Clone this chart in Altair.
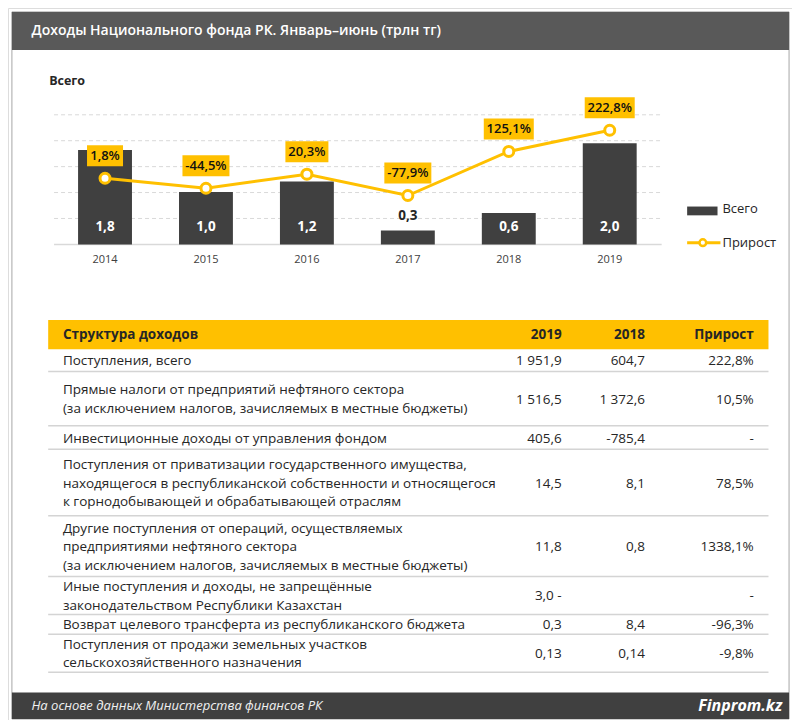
import altair as alt
import pandas as pd

# ---------------- data ----------------
title_text = "Доходы Национального фонда РК. Январь–июнь (трлн тг)"
subtitle_text = "Всего"
legend_labels = ["Всего", "Прирост"]
source_text = "На основе данных Министерства финансов РК"
brand_text = "Finprom.kz"

years = ["2014", "2015", "2016", "2017", "2018", "2019"]
totals = [1.82, 1.01, 1.215, 0.269, 0.605, 1.952]
total_labels = ["1,8", "1,0", "1,2", "0,3", "0,6", "2,0"]
growth = [1.8, -44.5, 20.3, -77.9, 125.1, 222.8]
growth_labels = ["1,8%", "-44,5%", "20,3%", "-77,9%", "125,1%", "222,8%"]

table_headers = ["Структура доходов", "2019", "2018", "Прирост"]
row_labels = [
    "Поступления, всего",
    "Прямые налоги от предприятий нефтяного сектора\n(за исключением налогов, зачисляемых в местные бюджеты)",
    "Инвестиционные доходы от управления фондом",
    "Поступления от приватизации государственного имущества,\nнаходящегося в республиканской собственности и относящегося\nк горнодобывающей и обрабатывающей отраслям",
    "Другие поступления от операций, осуществляемых\nпредприятиями нефтяного сектора\n\u2002(за исключением налогов, зачисляемых в местные бюджеты)",
    "Иные поступления и доходы, не запрещённые\nзаконодательством Республики Казахстан",
    "Возврат целевого трансферта из республиканского бюджета",
    "Поступления от продажи земельных участков\nсельскохозяйственного назначения",
]
col_2019 = ["1 951,9", "1 516,5", "405,6", "14,5", "11,8", "3,0 -", "0,3", "0,13"]
col_2018 = ["604,7", "1 372,6", "-785,4", "8,1", "0,8", "", "8,4", "0,14"]
col_growth = ["222,8%", "10,5%", "-", "78,5%", "1338,1%", "-", "-96,3%", "-9,8%"]

# ---------------- layout ----------------
W, H = 784, 712
SX, SY = W / 800, H / 728


def px(v):
    return v * SX


def py(v):
    return v * SY


FONT = "Open Sans"
GOLD = "#FFC000"
DARK = "#404040"
TXT = "#262626"
TFS = 13.5          # table font size
LH = 18.5           # table line height

row_heights = [22.7, 55.5, 24, 68, 62, 39, 20, 39]
table_top = 349

# ---------------- frames ----------------
bars_df = pd.DataFrame({"year": years, "v": totals, "lab": total_labels})
growth_df = pd.DataFrame({"year": years, "g": growth, "lab": growth_labels})
growth_df["bw"] = [7 * sum(ch.isdigit() for ch in s) + 22 + (4 if "-" in s else 0) for s in growth_labels]

bounds, centers, first_line = [], [], []
acc = table_top
for h, lab in zip(row_heights, row_labels):
    c = py(acc + h / 2 + 1)
    n = lab.count("\n") + 1
    centers.append(c)
    first_line.append(c - (n - 1) * LH / 2)
    acc += h
    bounds.append(py(acc))
table_df = pd.DataFrame({"label": row_labels, "v19": col_2019, "v18": col_2018,
                         "gr": col_growth, "yc": centers, "y1": first_line})
sep_df = pd.DataFrame({"y": bounds})

xs = alt.Scale(domain=years, range=[px(47.5), px(665.5)], paddingInner=0.466, paddingOuter=0.233)
yb = alt.Scale(domain=[0, 2.5], range=[py(241.7), py(109.2)])
yg = alt.Scale(domain=[-303, 294], range=[py(241.7), py(109.2)])


def rects(rows):
    df = pd.DataFrame(rows, columns=["x", "x2", "y", "y2", "c"])
    df["x"] = df["x"].map(px)
    df["x2"] = df["x2"].map(px)
    df["y"] = df["y"].map(py)
    df["y2"] = df["y2"].map(py)
    return alt.Chart(df).mark_rect().encode(
        x=alt.X("x:Q", scale=None, axis=None), x2="x2:Q",
        y=alt.Y("y:Q", scale=None, axis=None), y2="y2:Q",
        color=alt.Color("c:N", scale=None, legend=None))


def text_at(text, X, Y, **kw):
    return alt.Chart(pd.DataFrame({"t": [text]})).mark_text(**kw).encode(
        x=alt.value(px(X)), y=alt.value(py(Y)), text="t:N")


border = alt.Chart(pd.DataFrame({"a": [0]})).mark_rect(
    fill="white", stroke="#a6a6a6", strokeWidth=1).encode(
    x=alt.value(px(4)), x2=alt.value(px(797)), y=alt.value(py(4)), y2=alt.value(py(727)))

bands = rects([
    (4, 797, 4, 43, "#595959"),
    (4, 797, 700, 727, "#404040"),
    (41, 776, 319, 349, GOLD),
])

title = text_at(title_text, 24, 24, font=FONT, fontSize=14, fontWeight=600,
                color="white", align="left", baseline="middle")
subtitle = text_at(subtitle_text, 42, 75, font=FONT, fontSize=12.5, fontWeight="bold",
                   color=TXT, align="left", baseline="middle")

grid = alt.Chart(pd.DataFrame({"g": [0.5, 1.0, 1.5, 2.0, 2.5]})).mark_rule(
    color="#d9d9d9", strokeDash=[4, 3], strokeWidth=1).encode(
    y=alt.Y("g:Q", scale=yb, axis=None), x=alt.value(px(47)), x2=alt.value(px(667)))
baseline = alt.Chart(pd.DataFrame({"g": [0.0]})).mark_rule(
    color="#d9d9d9", strokeWidth=1.5).encode(
    y=alt.Y("g:Q", scale=yb, axis=None), x=alt.value(px(47)), x2=alt.value(px(667)))

bars = alt.Chart(bars_df).mark_bar(color=DARK).encode(
    x=alt.X("year:N", scale=xs, axis=None),
    y=alt.Y("v:Q", scale=yb, axis=None))

bar_lab_in = alt.Chart(bars_df).transform_filter("datum.v >= 0.4").mark_text(
    font=FONT, fontSize=13.5, fontWeight="bold", color="white", baseline="middle").encode(
    x=alt.X("year:N", scale=xs, axis=None), y=alt.value(py(224)), text="lab:N")
bar_lab_out = alt.Chart(bars_df).transform_filter("datum.v < 0.4").mark_text(
    font=FONT, fontSize=13.5, fontWeight="bold", color=TXT, baseline="middle", dy=-14).encode(
    x=alt.X("year:N", scale=xs, axis=None), y=alt.Y("v:Q", scale=yb, axis=None), text="lab:N")

year_labels = alt.Chart(bars_df).mark_text(
    font=FONT, fontSize=11, color=DARK, baseline="middle").encode(
    x=alt.X("year:N", scale=xs, axis=None), y=alt.value(py(258)), text="year:N")

line = alt.Chart(growth_df).mark_line(color=GOLD, strokeWidth=3).encode(
    x=alt.X("year:N", scale=xs, axis=None), y=alt.Y("g:Q", scale=yg, axis=None))
points = alt.Chart(growth_df).mark_point(
    filled=True, fill="white", stroke=GOLD, strokeWidth=3, size=100, opacity=1).encode(
    x=alt.X("year:N", scale=xs, axis=None), y=alt.Y("g:Q", scale=yg, axis=None))
boxes = alt.Chart(growth_df).mark_bar(color=GOLD, yOffset=-33, y2Offset=-12).encode(
    x=alt.X("year:N", scale=xs, axis=None),
    y=alt.Y("g:Q", scale=yg, axis=None), y2=alt.Y2("g:Q"),
    size=alt.Size("bw:Q", scale=None, legend=None))
box_text = alt.Chart(growth_df).mark_text(
    font=FONT, fontSize=13, fontWeight=600, color="#111111", baseline="middle", dy=-22.5).encode(
    x=alt.X("year:N", scale=xs, axis=None), y=alt.Y("g:Q", scale=yg, axis=None), text="lab:N")

leg_df = pd.DataFrame({"s": [legend_labels[0]]})
leg_rect = alt.Chart(leg_df).mark_rect(color=DARK).encode(
    x=alt.value(px(693)), x2=alt.value(px(724)), y=alt.value(py(203)), y2=alt.value(py(212)))
leg_line = alt.Chart(leg_df).mark_rule(color=GOLD, strokeWidth=3).encode(
    x=alt.value(px(693)), x2=alt.value(px(727)), y=alt.value(py(240)))
leg_pt = alt.Chart(leg_df).mark_point(
    filled=True, fill="white", stroke=GOLD, strokeWidth=2.5, size=45, opacity=1).encode(
    x=alt.value(px(709)), y=alt.value(py(240)))
leg_t1 = text_at(legend_labels[0], 729, 206, font=FONT, fontSize=13, color=TXT,
                 align="left", baseline="middle")
leg_t2 = text_at(legend_labels[1], 729, 240, font=FONT, fontSize=13, color=TXT,
                 align="left", baseline="middle")

# table
hdr_y = 334
hdr_kw = dict(font=FONT, fontSize=TFS, fontWeight="bold", color=TXT, baseline="middle")
th = [
    text_at(table_headers[0], 56, hdr_y, align="left", **hdr_kw),
    text_at(table_headers[1], 565, hdr_y, align="right", **hdr_kw),
    text_at(table_headers[2], 650, hdr_y, align="right", **hdr_kw),
    text_at(table_headers[3], 761, hdr_y, align="right", **hdr_kw),
]

seps = alt.Chart(sep_df).mark_rule(color="#d4d4d4", strokeWidth=1.5).encode(
    y=alt.Y("y:Q", scale=None, axis=None), x=alt.value(px(41)), x2=alt.value(px(776)))


def col_text(field, X, align, yfield):
    return alt.Chart(table_df).mark_text(
        font=FONT, fontSize=TFS, color=TXT, align=align, baseline="middle",
        lineBreak="\n", lineHeight=LH).encode(
        x=alt.value(px(X)), y=alt.Y(f"{yfield}:Q", scale=None, axis=None), text=f"{field}:N")


tcols = [col_text("label", 56, "left", "y1"), col_text("v19", 565, "right", "yc"),
         col_text("v18", 650, "right", "yc"), col_text("gr", 761, "right", "yc")]

source = text_at(source_text, 24, 714, font=FONT, fontSize=13, fontStyle="italic",
                 color="#f0f0f0", align="left", baseline="middle")
brand = text_at(brand_text, 790, 714, font=FONT, fontSize=16, fontStyle="italic",
                fontWeight="bold", color="white", align="right", baseline="middle")

chart = alt.layer(
    border, bands, title, subtitle, grid, baseline, bars, bar_lab_in, bar_lab_out,
    year_labels, line, points, boxes, box_text,
    leg_rect, leg_line, leg_pt, leg_t1, leg_t2,
    *th, seps, *tcols, source, brand,
).resolve_scale(x="independent", y="independent").properties(
    width=W, height=H, padding=0, autosize=alt.AutoSizeParams(type="none")
).configure_view(stroke=None).configure(background="white")

chart.save("out.html", embed_options={"renderer": "svg", "actions": False})
